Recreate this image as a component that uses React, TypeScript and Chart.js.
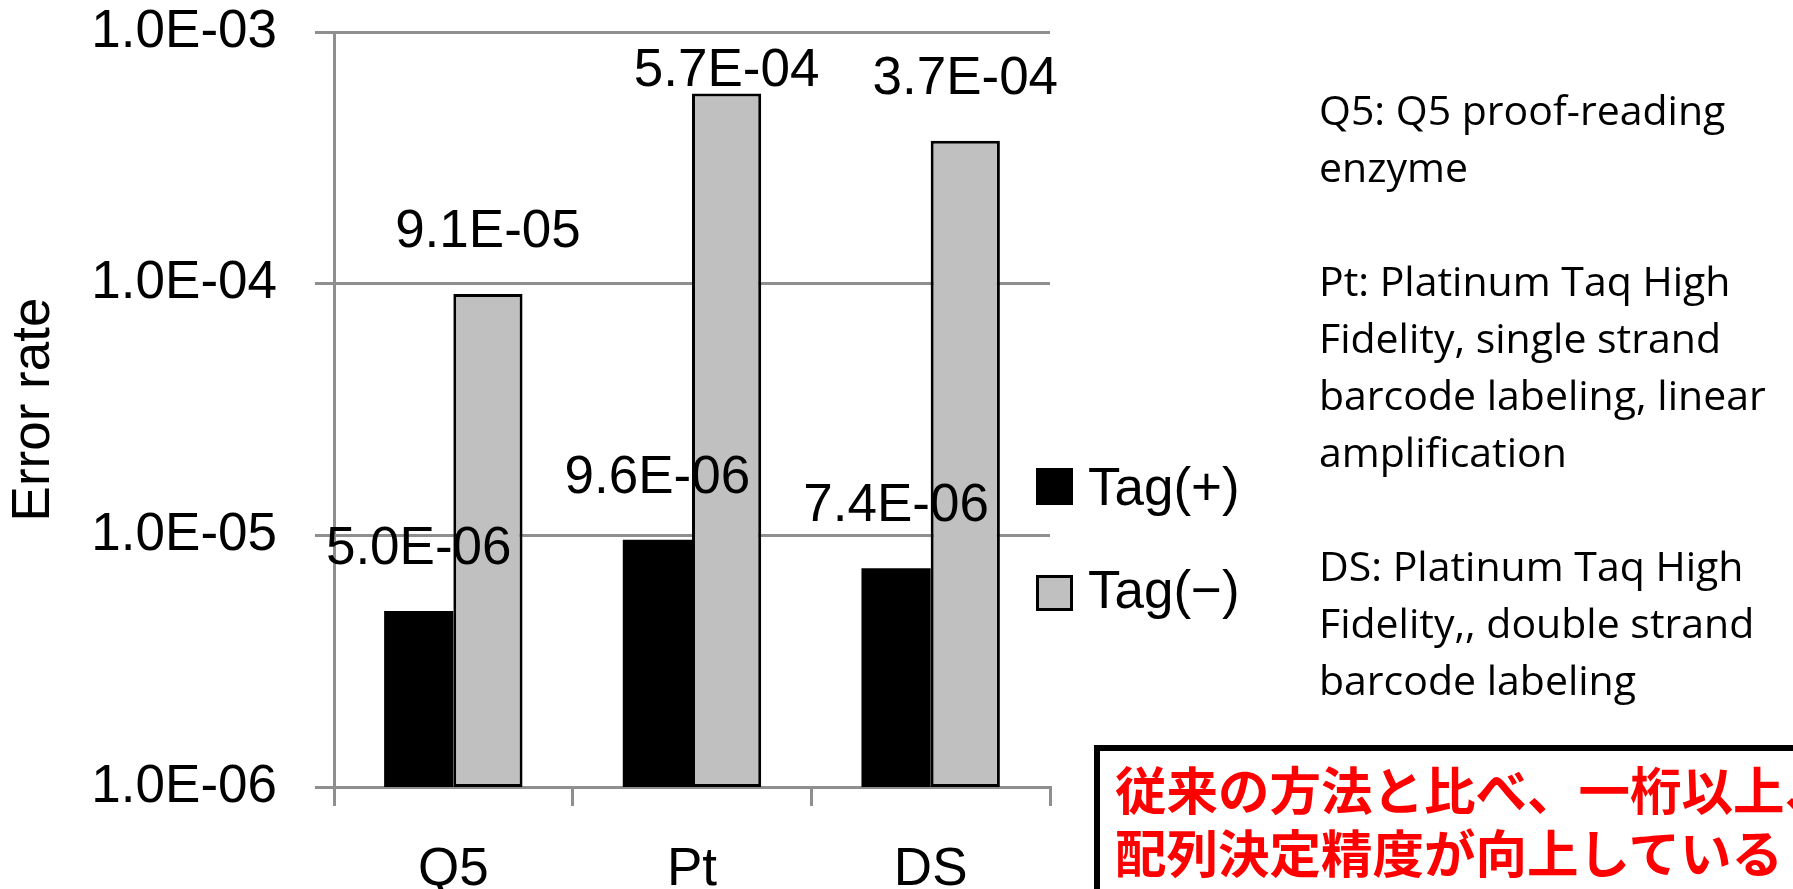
import React, { useEffect, useRef } from 'react';
import { Chart, registerables } from 'chart.js';

Chart.register(...registerables);

// ---------- data ----------
const CATEGORIES: string[] = ['Q5', 'Pt', 'DS'];
const SERIES_NAMES: string[] = ['Tag(+)', 'Tag(−)'];
const TAG_PLUS: number[] = [5.0e-6, 9.6e-6, 7.4e-6];
const TAG_MINUS: number[] = [9.1e-5, 5.7e-4, 3.7e-4];
const Y_TICKS: number[] = [1e-6, 1e-5, 1e-4, 1e-3];
const Y_TITLE = 'Error rate';
const NOTES: string[] = [
  'Q5: Q5 proof-reading',
  'enzyme',
  '',
  'Pt: Platinum Taq High',
  'Fidelity, single strand',
  'barcode labeling, linear',
  'amplification',
  '',
  'DS: Platinum Taq High',
  'Fidelity,, double strand',
  'barcode labeling',
];
const CALLOUT: string[] = ['従来の方法と比べ、一桁以上、', '配列決定精度が向上している'];

// ---------- style ----------
const W = 1793;
const H = 889;
const FONT = '"Liberation Sans", Arial, Helvetica, sans-serif';
const GRID = '#8f8f8f';
const BLACK = '#000000';
const GRAY = '#c0c0c0';

function sci(v: number): string {
  const [m, e] = v.toExponential(1).split('e');
  const n = parseInt(e, 10);
  const sign = n < 0 ? '-' : '+';
  return `${m.toUpperCase()}E${sign}${String(Math.abs(n)).padStart(2, '0')}`;
}

const valueLabels = {
  id: 'valueLabels',
  afterDatasetsDraw(chart: any) {
    const ctx = chart.ctx;
    ctx.save();
    ctx.font = `53px ${FONT}`;
    ctx.fillStyle = BLACK;
    ctx.textAlign = 'center';
    ctx.textBaseline = 'alphabetic';
    const minBaseline = chart.chartArea.top + 54;
    chart.data.datasets.forEach((ds: any, di: number) => {
      const meta = chart.getDatasetMeta(di);
      meta.data.forEach((bar: any, i: number) => {
        const v = ds.data[i] as number;
        const baseline = Math.max(bar.y - 47, minBaseline);
        ctx.fillText(sci(v), bar.x, baseline);
      });
    });
    ctx.restore();
  },
};

export default function App() {
  const canvasRef = useRef<HTMLCanvasElement | null>(null);

  useEffect(() => {
    const canvas = canvasRef.current;
    if (!canvas) return;
    const chart = new Chart(canvas, {
      type: 'bar',
      data: {
        labels: CATEGORIES,
        datasets: [
          {
            label: SERIES_NAMES[0],
            data: TAG_PLUS,
            backgroundColor: BLACK,
            borderWidth: 0,
          },
          {
            label: SERIES_NAMES[1],
            data: TAG_MINUS,
            backgroundColor: GRAY,
            borderColor: BLACK,
            borderWidth: 3,
            borderSkipped: false,
          },
        ],
      },
      options: {
        responsive: false,
        animation: false,
        devicePixelRatio: 1,
        layout: { padding: { left: 0, right: 743, top: 32, bottom: 0 } },
        plugins: {
          legend: { display: false },
          tooltip: { enabled: false },
        },
        datasets: { bar: { categoryPercentage: 0.58, barPercentage: 1.0 } },
        scales: {
          x: {
            grid: {
              display: true,
              drawOnChartArea: false,
              drawTicks: true,
              tickLength: 19,
              color: GRID,
              lineWidth: 3,
              offset: true,
            },
            border: { display: true, color: GRID, width: 3 },
            ticks: { color: BLACK, font: { family: FONT, size: 53 }, padding: 33 },
            afterFit: (s: any) => {
              s.height = 102;
            },
          },
          y: {
            type: 'logarithmic',
            min: 1e-6,
            max: 1e-3,
            grid: { color: GRID, lineWidth: 3, tickLength: 19, drawTicks: true },
            border: { display: true, color: GRID, width: 3 },
            ticks: {
              color: BLACK,
              font: { family: FONT, size: 53 },
              padding: 38,
              autoSkip: false,
              callback: (v: any) => sci(Number(v)),
            },
            afterBuildTicks: (s: any) => {
              s.ticks = Y_TICKS.map((v) => ({ value: v }));
            },
            afterFit: (s: any) => {
              s.width = 334;
              s.paddingTop = 0;
              s.paddingBottom = 0;
            },
            title: {
              display: true,
              text: Y_TITLE,
              color: BLACK,
              font: { family: FONT, size: 53 },
              padding: { top: 3, bottom: 0 },
            },
          },
        },
      } as any,
      plugins: [valueLabels],
    });
    return () => chart.destroy();
  }, []);

  const legendColors = [
    { bg: BLACK, border: 'none' },
    { bg: GRAY, border: `3px solid ${BLACK}` },
  ];

  return (
    <div
      style={{
        position: 'fixed',
        left: 0,
        top: 0,
        width: W,
        height: H,
        overflow: 'hidden',
        background: '#ffffff',
      }}
    >
      <canvas
        ref={canvasRef}
        width={W}
        height={H}
        style={{ position: 'absolute', left: 0, top: 0, width: W, height: H, display: 'block' }}
      />

      {/* legend */}
      {SERIES_NAMES.map((name, i) => (
        <React.Fragment key={name}>
          <div
            style={{
              position: 'absolute',
              left: 1036,
              top: i === 0 ? 468 : 575,
              width: 37,
              height: i === 0 ? 37 : 36,
              background: legendColors[i].bg,
              border: legendColors[i].border,
              boxSizing: 'border-box',
            }}
          />
          <div
            style={{
              position: 'absolute',
              left: 1088,
              top: i === 0 ? 460 : 563,
              fontFamily: FONT,
              fontSize: 53,
              lineHeight: '53px',
              color: BLACK,
              whiteSpace: 'nowrap',
            }}
          >
            {name}
          </div>
        </React.Fragment>
      ))}

      {/* notes */}
      <div
        style={{
          position: 'absolute',
          left: 1319,
          top: 81,
          fontFamily: '"Open Sans", "Noto Sans", sans-serif',
          fontSize: 41,
          lineHeight: '57px',
          color: BLACK,
          whiteSpace: 'nowrap',
        }}
      >
        {NOTES.map((line, i) => (
          <div key={i} style={{ height: 57 }}>
            {line}
          </div>
        ))}
      </div>

      {/* callout box */}
      <div
        style={{
          position: 'absolute',
          left: 1094,
          top: 745,
          width: 900,
          height: 300,
          border: `6px solid ${BLACK}`,
          background: '#ffffff',
          boxSizing: 'border-box',
        }}
      />
      <div
        style={{
          position: 'absolute',
          left: 1115,
          top: 756,
          fontFamily: '"Noto Sans CJK JP", "Noto Sans CJK SC", sans-serif',
          fontWeight: 700,
          fontSize: 51.5,
          lineHeight: '63px',
          color: '#ff0000',
          whiteSpace: 'nowrap',
        }}
      >
        {CALLOUT.map((line, i) => (
          <div key={i}>{line}</div>
        ))}
      </div>
    </div>
  );
}
